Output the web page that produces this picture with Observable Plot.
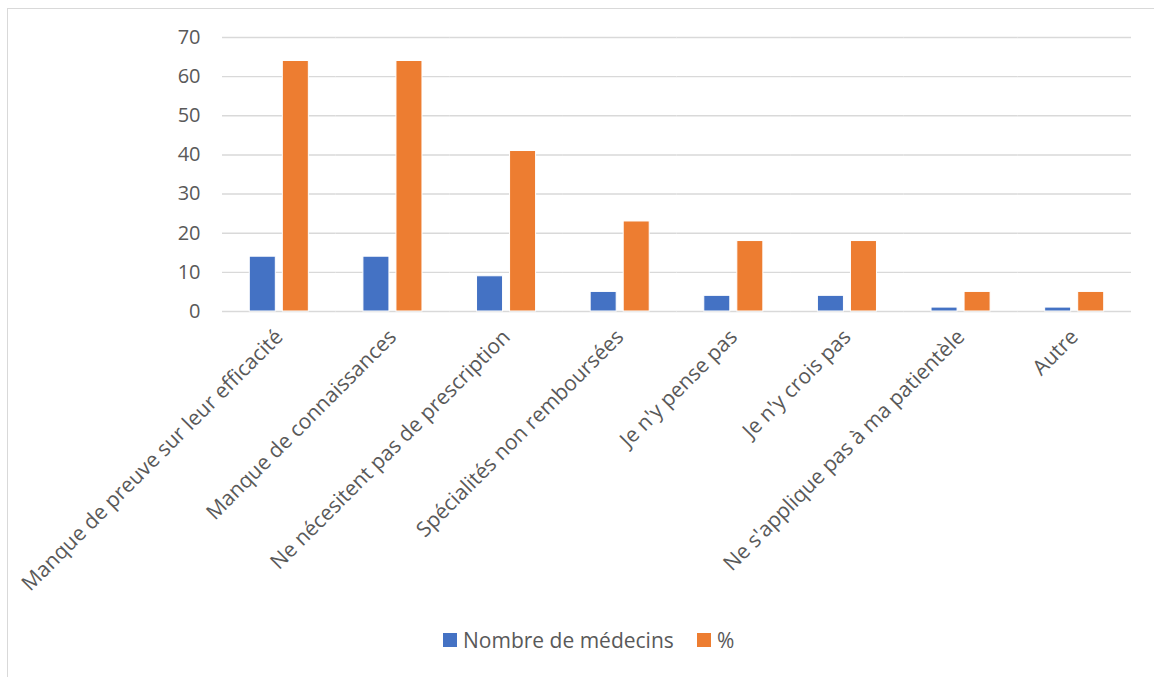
<!DOCTYPE html>
<html>
<head>
<meta charset="utf-8">
<script src="https://cdn.jsdelivr.net/npm/d3@7"></script>
<script src="https://cdn.jsdelivr.net/npm/@observablehq/plot@0.6"></script>
<style>
  html, body { margin: 0; padding: 0; background: #fff; width: 1154px; height: 677px; overflow: hidden; }
  #frame { position: absolute; left: 7px; top: 8px; width: 1200px; height: 700px; border: 1px solid #d9d9d9; box-sizing: border-box; }
  #chart { position: absolute; left: 0; top: 0; }
  #legend { position: absolute; top: 626px; left: 0; width: 1154px; font-family: "Open Sans", sans-serif; font-size: 21px; color: #595959; }
  #legend .item { position: absolute; display: flex; align-items: center; white-space: nowrap; }
  #legend .sw { width: 14px; height: 14px; margin-right: 6px; }
</style>
</head>
<body>
<div id="frame"></div>
<div id="chart"></div>
<div id="legend"></div>
<script>
const categories = [
  "Manque de preuve sur leur efficacité",
  "Manque de connaissances",
  "Ne nécesitent pas de prescription",
  "Spécialités non remboursées",
  "Je n'y pense pas",
  "Je n'y crois pas",
  "Ne s'applique pas à ma patientèle",
  "Autre"
];
const series = ["Nombre de médecins", "%"];
const nombreMedecins = [14, 14, 9, 5, 4, 4, 1, 1];
const pourcentage = [64, 64, 41, 23, 18, 18, 5, 5];
const yTicks = [0, 10, 20, 30, 40, 50, 60, 70];
const colors = ["#4472c4", "#ed7d31"];

const data = categories.flatMap((c, i) => [
  {cat: c, series: series[0], value: nombreMedecins[i]},
  {cat: c, series: series[1], value: pourcentage[i]}
]);

const chart = Plot.plot({
  width: 1154,
  height: 620,
  marginTop: 37,
  marginBottom: 309,
  marginLeft: 222,
  marginRight: 23,
  style: {fontFamily: "'Open Sans', sans-serif", color: "#595959", background: "transparent"},
  fx: {domain: categories, padding: 0, round: false, label: null},
  x: {domain: series, paddingInner: 0.212, paddingOuter: 0.826, round: false, axis: null},
  y: {domain: [0, 70], label: null},
  color: {domain: series, range: colors},
  marks: [
    Plot.gridY(yTicks, {stroke: "#d9d9d9", strokeOpacity: 1, strokeWidth: 1.4}),
    Plot.axisY(yTicks, {tickSize: 0, tickPadding: 22, fontSize: 20, label: null}),
    Plot.axisFx({anchor: "bottom", tickSize: 0, tickRotate: -45, fontSize: 21, label: null, tickPadding: 22}),
    Plot.barY(data, {fx: "cat", x: "series", y: "value", fill: "series", stroke: "white", strokeWidth: 1})
  ]
});
document.getElementById("chart").appendChild(chart);

const legend = document.getElementById("legend");
const legendPos = [443, 697];
series.forEach((s, i) => {
  const item = document.createElement("div");
  item.className = "item";
  item.style.left = legendPos[i] + "px";
  const sw = document.createElement("div");
  sw.className = "sw";
  sw.style.background = colors[i];
  const t = document.createElement("span");
  t.textContent = s;
  item.appendChild(sw);
  item.appendChild(t);
  legend.appendChild(item);
});
</script>
</body>
</html>
